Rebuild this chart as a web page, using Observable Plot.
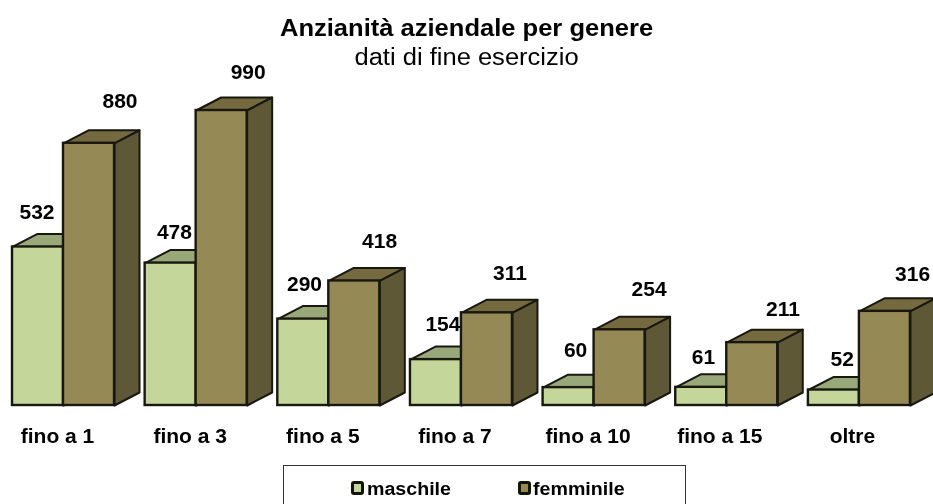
<!DOCTYPE html>
<html><head><meta charset="utf-8">
<script src="https://cdn.jsdelivr.net/npm/d3@7"></script>
<script src="https://cdn.jsdelivr.net/npm/@observablehq/plot@0.6"></script>
<style>
html,body{margin:0;padding:0;background:#fff;overflow:hidden}
#wrap{position:relative;width:933px;height:504px;font-family:"Liberation Sans",Arial,sans-serif;color:#000}
#wrap svg{position:absolute;left:0;top:0;filter:blur(.4px)}
.t{position:absolute;white-space:nowrap;text-align:center;left:0;width:933px;transform:scaleX(1.11);transform-origin:466px 0}
#legend{position:absolute;left:283px;top:465px;width:403px;height:60px;border:1px solid #333;box-sizing:border-box}
.sw{position:absolute;top:15px;width:13px;height:14px;border:3.5px solid #141408;border-radius:3px;box-sizing:border-box}
.lg{position:absolute;top:13px;font:bold 18px "Liberation Sans",Arial,sans-serif;transform:scaleX(1.09);transform-origin:0 0}
</style></head><body>
<div id="wrap">
<div class="t" style="top:15px;font-weight:bold;font-size:23px;line-height:26px">Anzianità aziendale per genere</div>
<div class="t" style="top:44px;font-size:23px;line-height:26px">dati di fine esercizio</div>
<div id="legend">
<div class="sw" style="left:67px;background:#c4d699"></div><div class="lg" style="left:83px">maschile</div>
<div class="sw" style="left:234px;background:#958a55"></div><div class="lg" style="left:249px">femminile</div>
</div>
</div>
<script>
const categories = ["fino a 1","fino a 3","fino a 5","fino a 7","fino a 10","fino a 15","oltre"];
const maschile  = [532,478,290,154,60,61,52];
const femminile = [880,990,418,311,254,211,316];

// label placement nudges (px), separate from the data
const catNudge = [-6,-6,-6,-6.5,-6,-7,-7];
const mNudgeX = [-1,3.8,1.2,7,7,2.2,8.3];
const mNudgeY = [-34.5,-30.6,-34.6,-35,-37,-30,-30.5];
const fNudgeX = [31,26.5,25.3,23,29.5,30.8,27.7];
const fNudgeY = [-41.8,-38,-39.4,-39.3,-40.3,-33,-36.8];

const colors = {
  m:{front:"#c4d699",top:"#98a878",side:"#6f7a50"},
  f:{front:"#958a55",top:"#75693f",side:"#5f5836"}
};
const edge = "#181810";
const barW = 0.3845, depthX = 0.1885, depthY = 43.6;

function faces(values, offset, key){
  const out = [];
  values.forEach((v,i)=>{
    const x0=i+offset, x1=x0+barW, xd=x1+depthX, x0d=x0+depthX, yd=v+depthY;
    const poly=(name,pts)=>pts.forEach(([x,y])=>out.push({x,y,id:key+i+name,fill:colors[key][name]}));
    poly("top",[[x0,v],[x0d,yd],[xd,yd],[x1,v],[x0,v]]);
    poly("side",[[x1,v],[xd,yd],[xd,depthY],[x1,0],[x1,v]]);
  });
  return out;
}
const fronts=(values,offset,key)=>values.map((v,i)=>({x1:i+offset,x2:i+offset+barW,y:v,fill:colors[key].front}));
const polyMark=d=>Plot.line(d,{x:"x",y:"y",z:"id",fill:"fill",stroke:edge,strokeWidth:2,strokeLinejoin:"round",curve:"linear"});
const rectMark=d=>Plot.rect(d,{x1:"x1",x2:"x2",y1:0,y2:"y",fill:"fill",stroke:edge,strokeWidth:2.4});
const lab={fontFamily:"'Liberation Sans',Arial,sans-serif",fontWeight:"bold",fontSize:21,fill:"#000",textAnchor:"middle",lineAnchor:"middle"};

const chart = Plot.plot({
  width:933,height:504,margin:0,
  x:{type:"linear",domain:[0,1],range:[12,144.65],axis:null},
  y:{type:"linear",domain:[0,990],range:[405,110],axis:null},
  marks:[
    polyMark(faces(maschile,0,"m")),
    rectMark(fronts(maschile,0,"m")),
    polyMark(faces(femminile,barW,"f")),
    rectMark(fronts(femminile,barW,"f")),
    ...maschile.map((v,i)=>Plot.text([v],{...lab,x:()=>i+barW/2,y:d=>d,text:d=>String(d),dx:mNudgeX[i],dy:mNudgeY[i]})),
    ...femminile.map((v,i)=>Plot.text([v],{...lab,x:()=>i+barW*1.5,y:d=>d,text:d=>String(d),dx:fNudgeX[i],dy:fNudgeY[i]})),
    ...categories.map((c,i)=>Plot.text([c],{...lab,x:()=>i+barW,y:()=>0,text:d=>d,dx:catNudge[i],dy:31}))
  ]
});
document.getElementById("wrap").prepend(chart);
</script>
</body></html>
